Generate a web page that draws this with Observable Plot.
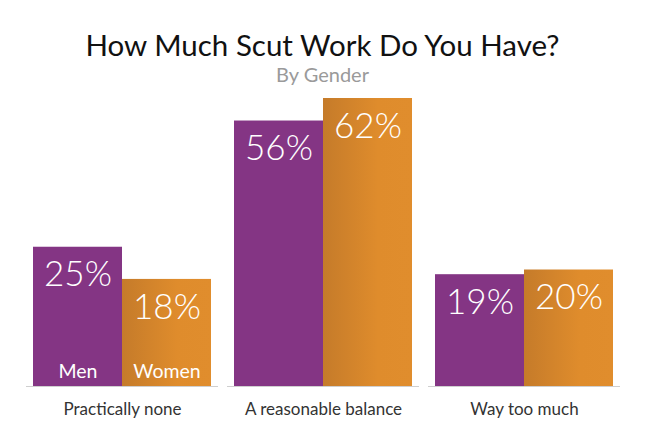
<!DOCTYPE html>
<html>
<head>
<meta charset="utf-8">
<script src="https://cdn.jsdelivr.net/npm/d3@7"></script>
<script src="https://cdn.jsdelivr.net/npm/@observablehq/plot@0.6"></script>
<style>
  html, body { margin: 0; padding: 0; background: #fff; }
  body { width: 645px; height: 439px; overflow: hidden; font-family: Lato, "Open Sans", sans-serif; }
  .title { margin-top: 28px; height: 34px; line-height: 34px; font-size: 29.5px; font-weight: 400; color: #111; text-align: center; }
  .subtitle { height: 24px; line-height: 24px; font-size: 20px; color: #9a9a9a; text-align: center; }
  #chart svg { display: block; }
</style>
</head>
<body>
<div class="title">How Much Scut Work Do You Have?</div>
<div class="subtitle">By Gender</div>
<div id="chart"></div>
<script>
const categories = ["Practically none", "A reasonable balance", "Way too much"];
const genders = ["Men", "Women"];
const menValues = [25, 56, 19];
const womenValues = [18, 62, 20];
const genderColors = ["#843584", "url(#orangeGrad)"];

const rows = [];
categories.forEach((c, i) => {
  rows.push({category: c, gender: genders[0], value: menValues[i]});
  rows.push({category: c, gender: genders[1], value: womenValues[i]});
});

const svg = Plot.plot({
  width: 645,
  height: 353,
  marginTop: 12,
  marginBottom: 53,
  marginLeft: 32,
  marginRight: 32,
  style: {fontFamily: "Lato, 'Open Sans', sans-serif", background: "transparent"},
  fx: {domain: categories, paddingInner: 0.1166, paddingOuter: 0, axis: null},
  x: {domain: genders, padding: 0, axis: null},
  y: {type: "pow", exponent: 0.8, domain: [0, 62], axis: null},
  color: {domain: genders, range: genderColors},
  marks: [
    Plot.barY(rows, {fx: "category", x: "gender", y: "value", fill: "gender"}),
    Plot.ruleY([0], {stroke: "#cfcfcf", strokeWidth: 1, insetLeft: -7, insetRight: -7}),
    Plot.text(rows, {fx: "category", x: "gender", y: "value", text: d => d.value + "%",
      dy: 28, fill: "#fff", fontSize: 35, fontWeight: 300, lineAnchor: "middle"}),
    Plot.text(rows.filter(d => d.category === categories[0]), {fx: "category", x: "gender", y: () => 0,
      text: "gender", dy: -15, fill: "#fff", fontSize: 19.5, fontWeight: 400, lineAnchor: "middle"}),
    Plot.text(categories, {fx: d => d, y: () => 0, text: d => d, dy: 23, fill: "#333",
      fontSize: 17, fontWeight: 400, lineAnchor: "middle"})
  ]
});

const defs = d3.select(svg).insert("defs", ":first-child");
const grad = defs.append("linearGradient").attr("id", "orangeGrad")
  .attr("x1", "0").attr("y1", "0").attr("x2", "1").attr("y2", "0");
grad.append("stop").attr("offset", "0").attr("stop-color", "#c57b2a");
grad.append("stop").attr("offset", "0.62").attr("stop-color", "#df8c2c");
grad.append("stop").attr("offset", "1").attr("stop-color", "#e08d2d");

document.getElementById("chart").appendChild(svg);
</script>
</body>
</html>
